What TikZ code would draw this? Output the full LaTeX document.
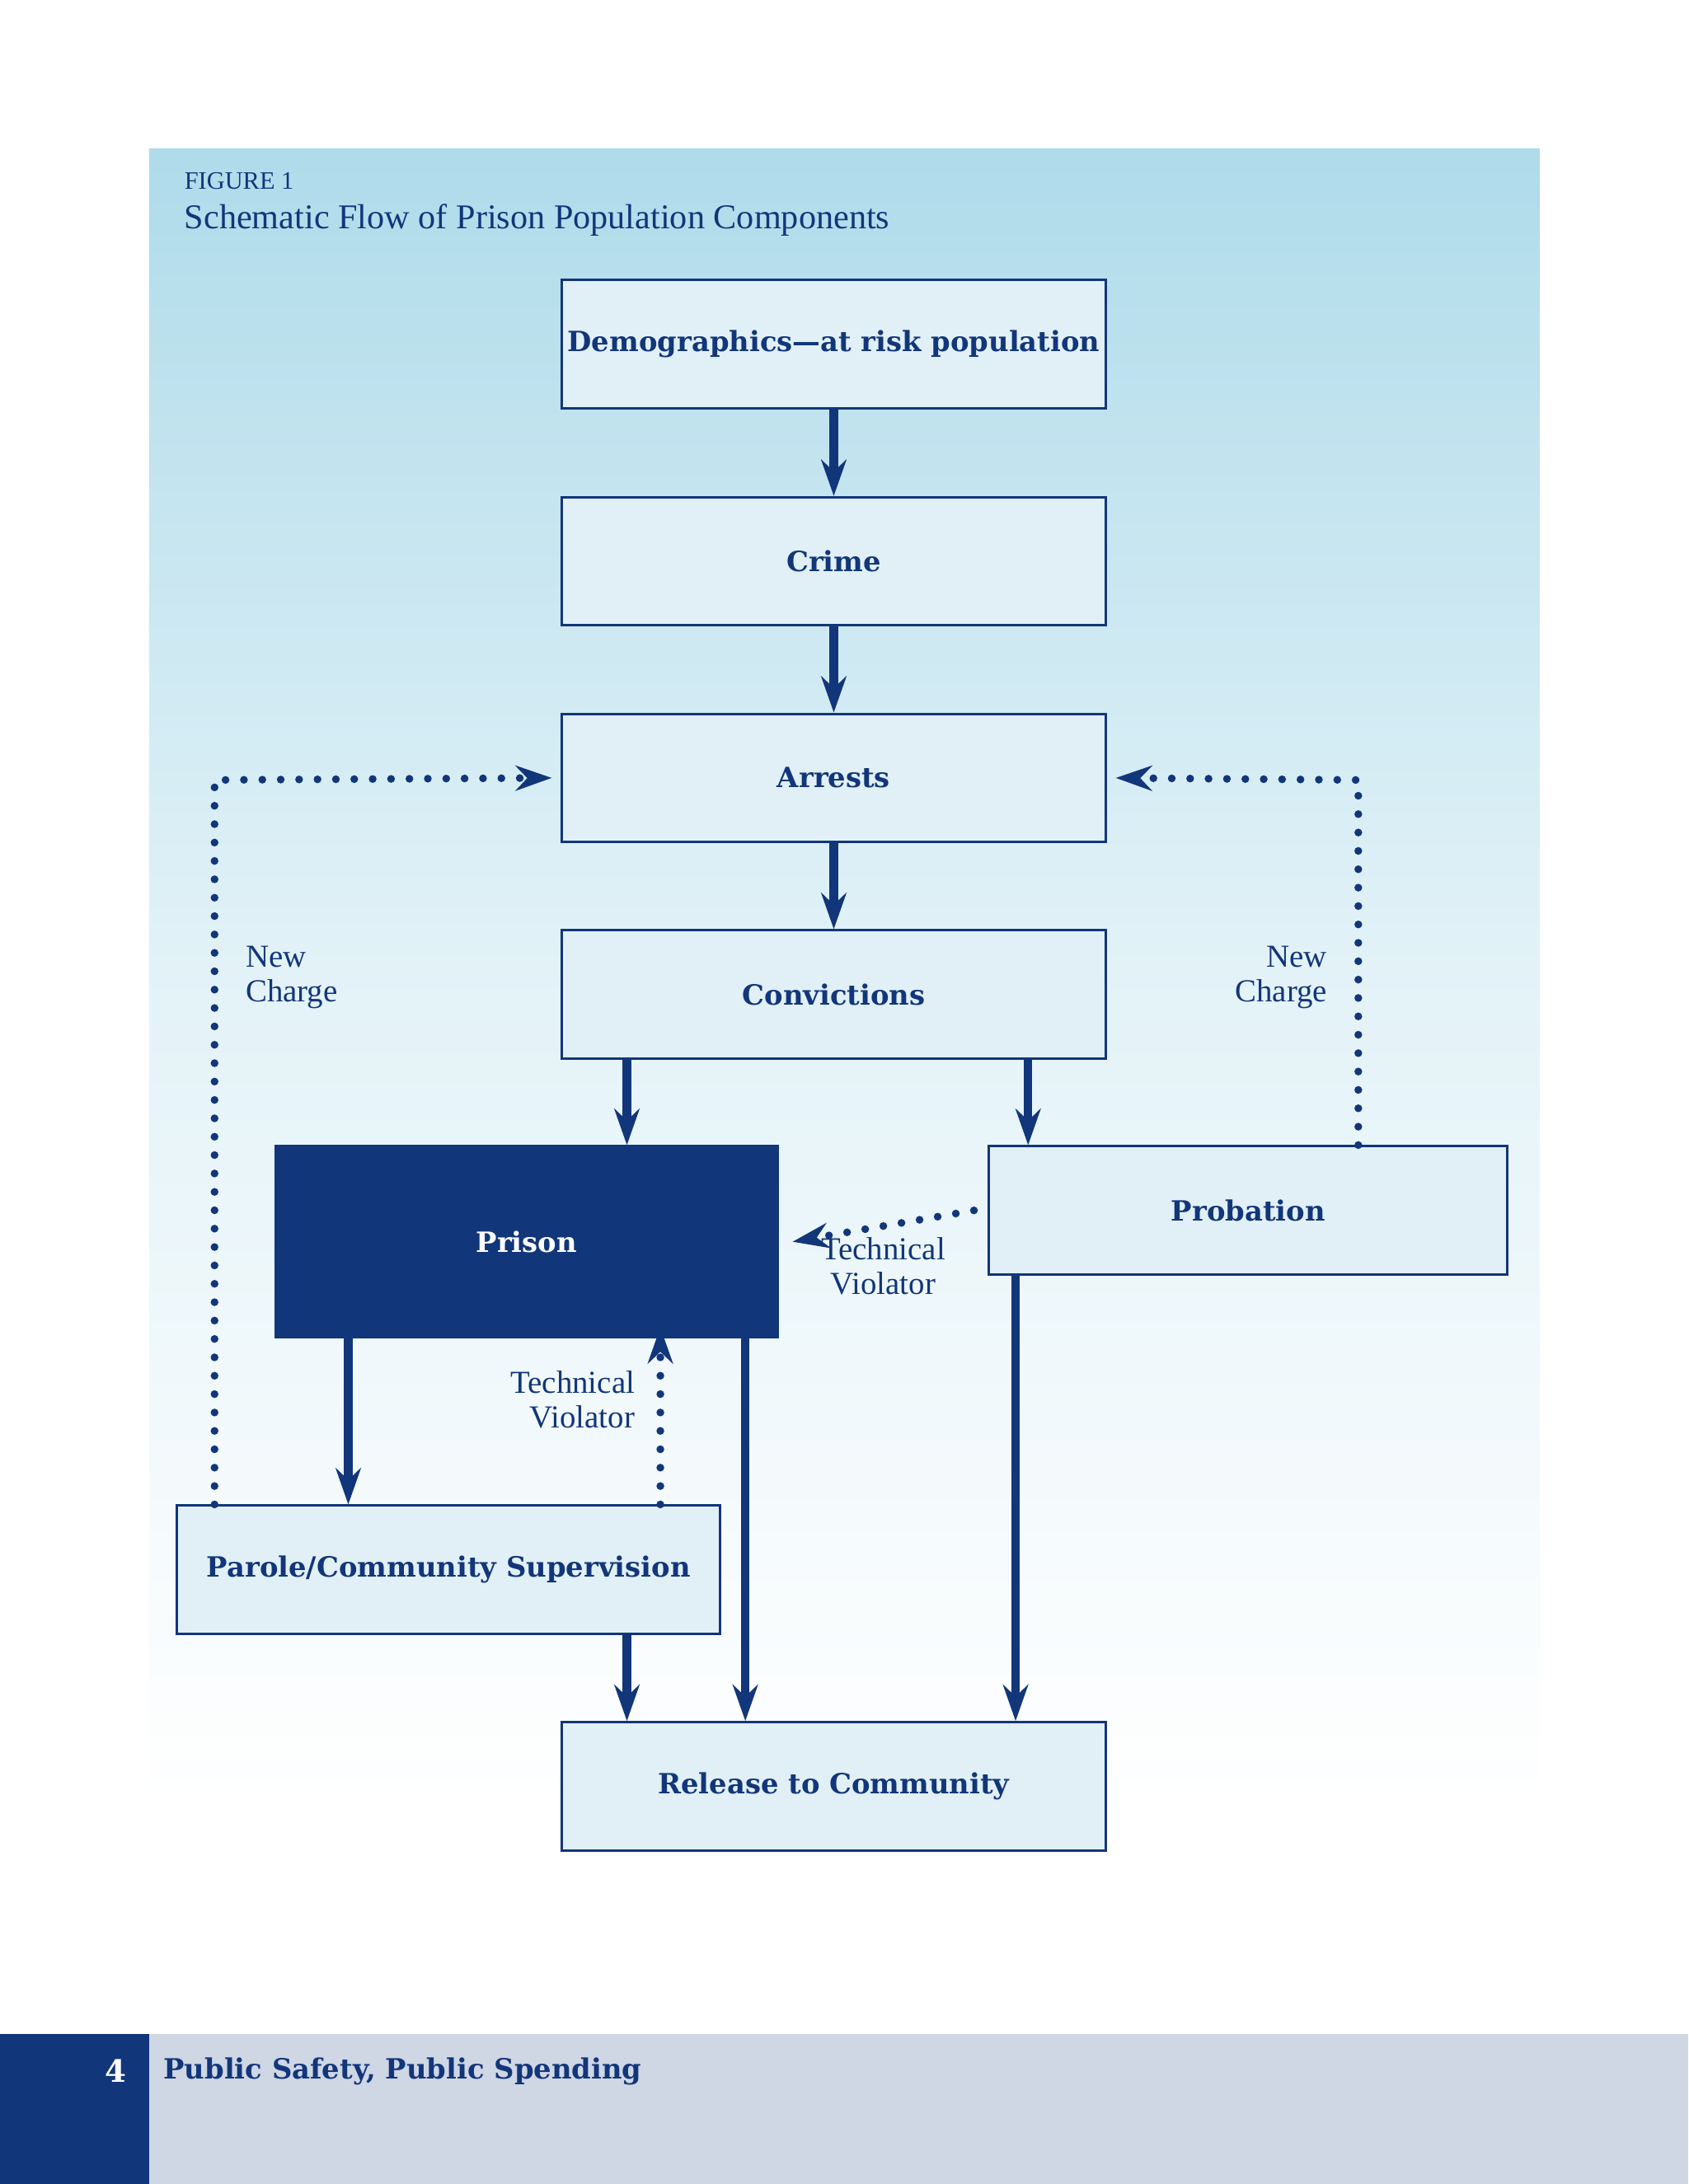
\documentclass[tikz,border=0pt]{standalone}
\usepackage{fontspec}
\setmainfont{DejaVu Serif}
\newfontfamily\lightserif{Liberation Serif}
\usetikzlibrary{arrows.meta}
\definecolor{navy}{HTML}{12367A}
\definecolor{boxfill}{HTML}{E1F0F6}
\definecolor{skytop}{HTML}{AFDBEA}
\definecolor{footgray}{HTML}{CFD6E4}
\begin{document}
\begin{tikzpicture}[x=0.5pt,y=-0.5pt,
  box/.style={draw=navy, line width=0.9pt, fill=boxfill, text=navy,
    font=\bfseries\fontsize{10}{12}\selectfont, inner sep=0pt},
  flow/.style={draw=navy, line width=3pt, -{Stealth[length=13pt,width=9pt]}},
  dots/.style={draw=navy, line width=2.8pt, line cap=round,
    dash pattern=on 0pt off 6.6pt, -{Stealth[length=13pt,width=9pt]}},
  lab/.style={text=navy, font=\lightserif\fontsize{11.5}{12.5}\selectfont, inner sep=0pt}]
\useasboundingbox (0,0) rectangle (1212,1568);
\fill[white] (0,0) rectangle (1212,1568);
\shade[top color=skytop, bottom color=white, middle color=skytop!35!white] (107,107) rectangle (1105,1300);
\fill[white] (107,1300) rectangle (1105,1460);
\fill[footgray] (0,1460) rectangle (1212,1568);
\fill[navy] (0,1460) rectangle (107,1568);
\node[anchor=east, text=white, font=\bfseries\fontsize{11}{12}\selectfont] (pg) at (98,1487) {4};
\node[anchor=west, text=navy, font=\bfseries\fontsize{10}{12}\selectfont, inner sep=0pt] (ft) at (117,1487) {Public Safety, Public Spending};
\node[anchor=west, text=navy, font=\lightserif\fontsize{9}{10}\selectfont, inner sep=0pt] (fig) at (132,130) {FIGURE 1};
\node[anchor=west, text=navy, font=\lightserif\fontsize{12.5}{14}\selectfont, inner sep=0pt] (ttl) at (132,158) {Schematic Flow of Prison Population Components};

\node[box, minimum width=195.5pt, minimum height=46pt] (demo) at (598.5,247) {Demographics—at risk population};
\node[box, minimum width=195.5pt, minimum height=46pt] (crime) at (598.5,403) {Crime};
\node[box, minimum width=195.5pt, minimum height=46pt] (arr) at (598.5,558.5) {Arrests};
\node[box, minimum width=195.5pt, minimum height=46pt] (conv) at (598.5,714) {Convictions};
\node[box, fill=navy, text=white, minimum width=180pt, minimum height=68.5pt] (prison) at (378,891.5) {Prison};
\node[box, minimum width=186pt, minimum height=46pt] (prob) at (896,869) {Probation};
\node[box, minimum width=195pt, minimum height=46pt] (parole) at (322,1127) {Parole/Community Supervision};
\node[box, minimum width=195.5pt, minimum height=46pt] (rel) at (598.5,1282.5) {Release to Community};

\draw[flow] (demo.south) -- (crime.north);
\draw[flow] (crime.south) -- (arr.north);
\draw[flow] (arr.south) -- (conv.north);
\draw[flow] (conv.south -| 450,0) -- (prison.north -| 450,0);
\draw[flow] (conv.south -| 738,0) -- (prob.north -| 738,0);
\draw[flow] (prison.south -| 250,0) -- (parole.north -| 250,0);
\draw[flow] (prison.south -| 535,0) -- (rel.north -| 535,0);
\draw[flow] (prob.south -| 729,0) -- (rel.north -| 729,0);
\draw[flow] (parole.south -| 450,0) -- (rel.north -| 450,0);

\coordinate (lc) at (154,560);
\coordinate (rc) at (975,560);
\draw[dots] (parole.north -| 154,0) -- (lc) -- ([xshift=-3pt]arr.west);
\draw[dots] (prob.north -| 975,0) -- (rc) -- ([xshift=3pt]arr.east);
\draw[dots] ([xshift=-5pt]prob.west) -- ([xshift=5pt]prison.east);
\draw[dots] (parole.north -| 474,0) -- ([yshift=4pt]prison.south -| 474,0);

\node[lab, anchor=north west, align=left] (nc1) at (176,679) {New\\Charge};
\node[lab, anchor=north east, align=right] (nc2) at (953,679) {New\\Charge};
\node[lab, anchor=north, align=center] (tv1) at (634,888) {Technical\\Violator};
\node[lab, anchor=north east, align=right] (tv2) at (456,984) {Technical\\Violator};
\end{tikzpicture}
\end{document}
